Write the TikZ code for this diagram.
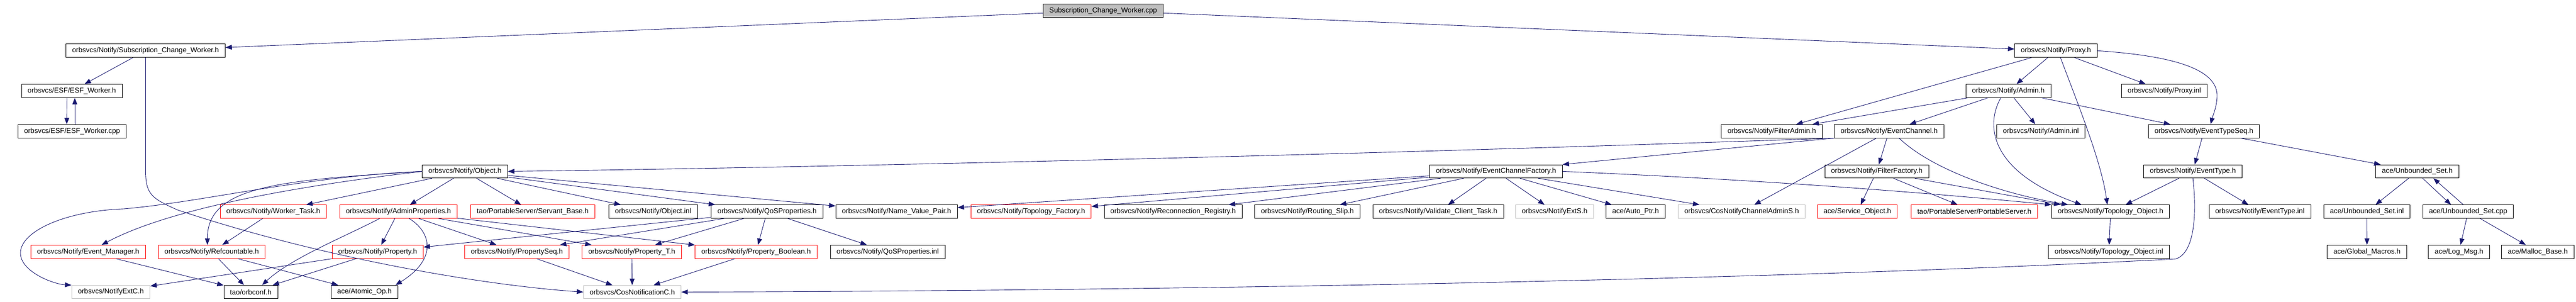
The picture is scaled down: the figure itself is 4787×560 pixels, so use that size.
\documentclass[tikz,border=0pt]{standalone}
\usepackage{fontspec}
\setmainfont{Liberation Sans}
\usetikzlibrary{arrows.meta}
\definecolor{edgeblue}{HTML}{191970}
\definecolor{grey75}{HTML}{BFBFBF}

\begin{document}
\begin{tikzpicture}[
  x=1pt, y=-1pt,
  every node/.style={
    draw, rectangle, line width=0.9pt, inner xsep=11.5pt, inner ysep=0pt,
    minimum height=24.8pt, font=\fontsize{13.2}{15}\selectfont
  },
  redbox/.style={draw=red},
  greybox/.style={draw=grey75},
  rootbox/.style={fill=grey75},
  dep/.style={
    draw=edgeblue, line width=0.9pt,
    -{Triangle[length=12pt,width=9pt]}
  }
  ]
  \useasboundingbox (0,0) rectangle (4787,560);

  \node[rootbox] (cpp) at (2050,19.6) {Subscription\_Change\_Worker.cpp};

  \node (scwh) at (270.5,94.3) {orbsvcs/Notify/Subscription\_Change\_Worker.h};
  \node (proxyh) at (3820.5,94.3) {orbsvcs/Notify/Proxy.h};

  \node (esfh) at (133.5,169) {orbsvcs/ESF/ESF\_Worker.h};
  \node (adminh) at (3732,169) {orbsvcs/Notify/Admin.h};
  \node (proxyinl) at (4022,169) {orbsvcs/Notify/Proxy.inl};

  \node (esfcpp) at (134,243.7) {orbsvcs/ESF/ESF\_Worker.cpp};
  \node (filteradmin) at (3292.5,243.7) {orbsvcs/Notify/FilterAdmin.h};
  \node (eventchannel) at (3510.5,243.7) {orbsvcs/Notify/EventChannel.h};
  \node (admininl) at (3792.6,243.7) {orbsvcs/Notify/Admin.inl};
  \node (eventtypeseq) at (4095.5,243.7) {orbsvcs/Notify/EventTypeSeq.h};

  \node (objecth) at (864,318.4) {orbsvcs/Notify/Object.h};
  \node (ecf) at (2780,318.4) {orbsvcs/Notify/EventChannelFactory.h};
  \node (filterfactory) at (3487.5,318.4) {orbsvcs/Notify/FilterFactory.h};
  \node (eventtype) at (4075,318.4) {orbsvcs/Notify/EventType.h};
  \node (unbset) at (4492,318.4) {ace/Unbounded\_Set.h};

  \node[redbox] (workertask) at (507.7,393.1) {orbsvcs/Notify/Worker\_Task.h};
  \node[redbox] (adminprops) at (740.4,393.1) {orbsvcs/Notify/AdminProperties.h};
  \node[redbox] (servantbase) at (990,393.1) {tao/PortableServer/Servant\_Base.h};
  \node (objectinl) at (1213.7,393.1) {orbsvcs/Notify/Object.inl};
  \node (qosprops) at (1425.5,393.1) {orbsvcs/Notify/QoSProperties.h};
  \node (nvpair) at (1666,393.1) {orbsvcs/Notify/Name\_Value\_Pair.h};
  \node[redbox] (topofactory) at (1916,393.1) {orbsvcs/Notify/Topology\_Factory.h};
  \node (reconreg) at (2180,393.1) {orbsvcs/Notify/Reconnection\_Registry.h};
  \node (routingslip) at (2429.6,393.1) {orbsvcs/Notify/Routing\_Slip.h};
  \node (validate) at (2672.5,393.1) {orbsvcs/Notify/Validate\_Client\_Task.h};
  \node[greybox] (notifyexts) at (2889,393.1) {orbsvcs/NotifyExtS.h};
  \node (autoptr) at (3039.5,393.1) {ace/Auto\_Ptr.h};
  \node[greybox] (cnca) at (3236.5,393.1) {orbsvcs/CosNotifyChannelAdminS.h};
  \node[redbox] (serviceobj) at (3451.5,393.1) {ace/Service\_Object.h};
  \node[redbox] (portableserver) at (3669,393.1) {tao/PortableServer/PortableServer.h};
  \node (topoobj) at (3922,393.1) {orbsvcs/Notify/Topology\_Object.h};
  \node (eventtypeinl) at (4199.5,393.1) {orbsvcs/Notify/EventType.inl};
  \node (unbsetinl) at (4398.4,393.1) {ace/Unbounded\_Set.inl};
  \node (unbsetcpp) at (4586.6,393.1) {ace/Unbounded\_Set.cpp};

  \node[redbox] (eventmgr) at (163.8,467.8) {orbsvcs/Notify/Event\_Manager.h};
  \node[redbox] (refcount) at (393.4,467.8) {orbsvcs/Notify/Refcountable.h};
  \node[redbox] (property) at (701.8,467.8) {orbsvcs/Notify/Property.h};
  \node[redbox] (propseq) at (960.5,467.8) {orbsvcs/Notify/PropertySeq.h};
  \node[redbox] (propT) at (1174,467.8) {orbsvcs/Notify/Property\_T.h};
  \node[redbox] (propbool) at (1405,467.8) {orbsvcs/Notify/Property\_Boolean.h};
  \node (qosinl) at (1649.5,467.8) {orbsvcs/Notify/QoSProperties.inl};
  \node (topoinl) at (3919,467.8) {orbsvcs/Notify/Topology\_Object.inl};
  \node (globalmacros) at (4398.6,467.8) {ace/Global\_Macros.h};
  \node (logmsg) at (4569.5,467.8) {ace/Log\_Msg.h};
  \node (mallocbase) at (4716,467.8) {ace/Malloc\_Base.h};

  \node[greybox] (notifyextc) at (206,542.5) {orbsvcs/NotifyExtC.h};
  \node (orbconf) at (466,542.5) {tao/orbconf.h};
  \node (atomicop) at (677.3,542.5) {ace/Atomic\_Op.h};
  \node[greybox] (cosnotifc) at (1175,542.5) {orbsvcs/CosNotificationC.h};

  \draw[dep] (cpp) -- (scwh);
  \draw[dep] (cpp) -- (proxyh);

  \draw[dep] (scwh) -- (esfh);
  \draw[dep] (scwh.south) -- (270.5,315) .. controls (270.5,360) and (280,368) .. (330,390)
    .. controls (600,480) and (900,530) .. (cosnotifc.west);
  \draw[dep] ([xshift=-9pt]esfh.south) -- ([xshift=-10pt]esfcpp.north);
  \draw[dep] ([xshift=5pt]esfcpp.north) -- ([xshift=5.5pt]esfh.south);

  \draw[dep] (proxyh) -- (filteradmin);
  \draw[dep] (proxyh) -- (adminh);
  \draw[dep] ([xshift=8.5pt]proxyh.south) .. controls (3860,190) and (3905,300) .. ([xshift=-6pt]topoobj.north);
  \draw[dep] (proxyh) -- (proxyinl);
  \draw[dep] (proxyh.east) .. controls (4060,105) and (4122,135) .. (4120,180)
    .. controls (4119,200) and (4112,215) .. ([xshift=12.5pt]eventtypeseq.north);

  \draw[dep] (adminh) -- (filteradmin);
  \draw[dep] (adminh) -- (eventchannel);
  \draw[dep] ([xshift=-14pt]adminh.south) .. controls (3688,235) and (3700,320) .. ([xshift=-54pt]topoobj.north);
  \draw[dep] (adminh) -- (admininl);
  \draw[dep] (adminh) -- (eventtypeseq);

  \draw[dep] (eventchannel.south west) .. controls (2600,285) and (1600,310) .. (objecth.east);
  \draw[dep] (eventchannel.south west) -- (ecf.north east);
  \draw[dep] (eventchannel) -- (filterfactory);
  \draw[dep] (eventchannel) -- (cnca);
  \draw[dep] ([xshift=18.5pt]eventchannel.south) .. controls (3590,315) and (3720,360) .. ([xshift=-79pt]topoobj.north);

  \draw[dep] (filterfactory) -- (serviceobj);
  \draw[dep] (filterfactory) -- (portableserver);
  \draw[dep] (filterfactory) -- ([xshift=-93pt]topoobj.north);

  \draw[dep] (ecf) -- (nvpair);
  \draw[dep] (ecf) -- (topofactory);
  \draw[dep] (ecf) -- (reconreg);
  \draw[dep] (ecf) -- (routingslip);
  \draw[dep] (ecf) -- (validate);
  \draw[dep] (ecf) -- (notifyexts);
  \draw[dep] (ecf) -- (autoptr);
  \draw[dep] (ecf) -- (cnca);
  \draw[dep] (ecf.east) .. controls (3300,335) and (3600,360) .. (topoobj.north west);

  \draw[dep] (objecth) -- (workertask);
  \draw[dep] (objecth) -- (adminprops);
  \draw[dep] (objecth) -- (servantbase);
  \draw[dep] (objecth) -- (objectinl);
  \draw[dep] (objecth) -- (qosprops);
  \draw[dep] (objecth) -- (nvpair);
  \draw[dep] (objecth.west) .. controls (600,340) and (330,380) .. ([xshift=25pt]eventmgr.north);
  \draw[dep] (objecth.west) .. controls (520,335) and (385,345) .. ([xshift=-8pt]refcount.north);
  \draw[dep] (objecth.west) .. controls (560,328) and (380,375) .. (230,388)
    .. controls (120,392) and (38,430) .. (38,470)
    .. controls (38,505) and (100,528) .. (notifyextc.north west);

  \draw[dep] (workertask) -- (refcount);

  \draw[dep] ([xshift=-35pt]adminprops.south) .. controls (640,440) and (540,480) .. ([xshift=21pt]orbconf.north);
  \draw[dep] (adminprops) -- (property);
  \draw[dep] ([xshift=20pt]adminprops.south) .. controls (800,430) and (815,480) .. ([xshift=-5pt]atomicop.north east);
  \draw[dep] (adminprops) -- (propseq);
  \draw[dep] (adminprops) -- (propT);
  \draw[dep] (adminprops) -- (propbool);

  \draw[dep] (qosprops) -- (property);
  \draw[dep] (qosprops) -- (propseq);
  \draw[dep] (qosprops) -- (propT);
  \draw[dep] (qosprops) -- (propbool);
  \draw[dep] (qosprops) -- (qosinl);

  \draw[dep] (refcount) -- (orbconf);
  \draw[dep] (refcount) -- (atomicop);
  \draw[dep] (eventmgr) -- (orbconf);
  \draw[dep] (property) -- (orbconf);
  \draw[dep] (property) -- (notifyextc);
  \draw[dep] (propseq) -- (cosnotifc);
  \draw[dep] (propT) -- (cosnotifc);
  \draw[dep] (propbool) -- (cosnotifc);

  \draw[dep] (eventtype) -- ([xshift=28pt]topoobj.north);
  \draw[dep] (eventtype) -- (eventtypeinl);
  \draw[dep] (eventtype.south) .. controls (4082,390) and (4080,470) .. (4043,481)
    .. controls (3300,520) and (2200,540) .. (cosnotifc.east);

  \draw[dep] (eventtypeseq) -- (eventtype);
  \draw[dep] (eventtypeseq) -- (unbset);

  \draw[dep] (unbset) -- (unbsetinl);
  \draw[dep] ([xshift=10pt]unbset.south) -- ([xshift=-32pt]unbsetcpp.north);
  \draw[dep] ([xshift=-9pt]unbsetcpp.north) -- ([xshift=30pt]unbset.south);
  \draw[dep] (unbsetinl) -- (globalmacros);
  \draw[dep] (unbsetcpp) -- (logmsg);
  \draw[dep] (unbsetcpp) -- (mallocbase);

  \draw[dep] (topoobj) -- (topoinl);
\end{tikzpicture}
\end{document}
